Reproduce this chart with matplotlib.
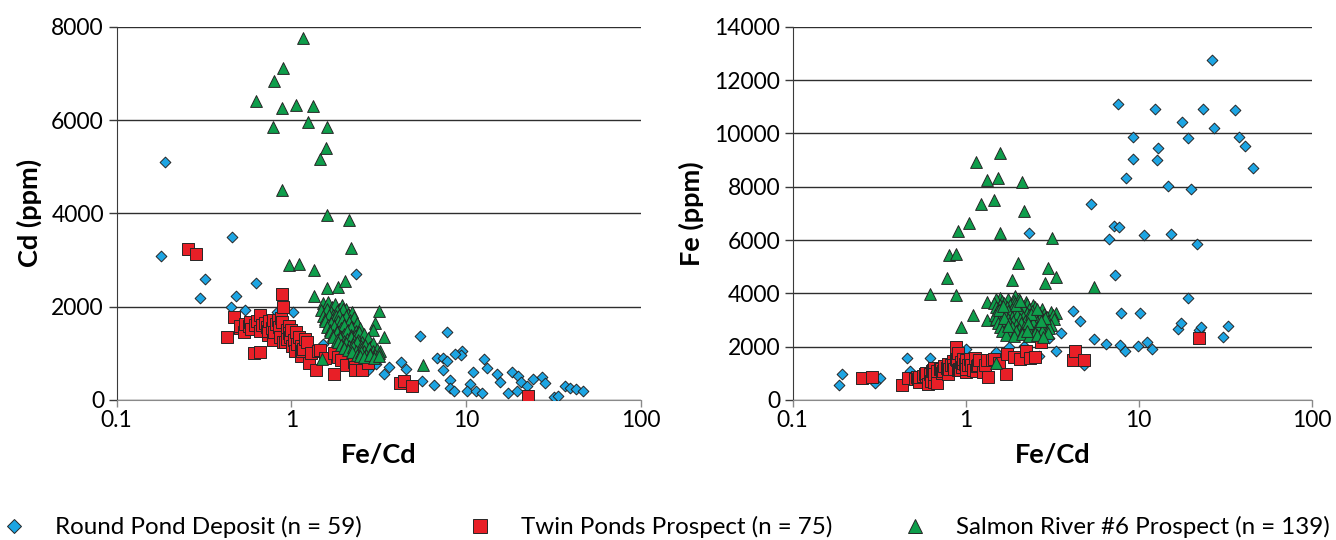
import matplotlib
matplotlib.use("Agg")
import matplotlib.pyplot as plt
from matplotlib.lines import Line2D

plt.rcParams['font.family'] = ['Lato', 'DejaVu Sans']

# ---------------- data ----------------
# Left panel: Fe/Cd vs Cd (ppm)
rp_left_ratio = [0.19, 0.18, 0.32, 0.30, 0.46, 0.48, 0.45, 0.54, 0.63, 1.02, 2.35, 0.72, 0.83,
                 1.52, 1.84, 2.20, 3.05, 3.60, 4.24, 4.54, 3.40, 2.73, 5.44, 7.82, 9.52, 9.40,
                 8.65, 6.80, 7.40, 7.80, 7.40, 8.03, 8.03, 8.50, 6.56, 5.60, 10.95, 10.5, 10.1,
                 11.4, 12.3, 12.7, 13.1, 15.1, 15.7, 17.3, 18.3, 19.9, 20.6, 19.6, 22.2, 24.1,
                 27.3, 28.3, 31.8, 33.7, 36.8, 39.3, 42.4, 46.8]
rp_left_cd = [5100, 3090, 2590, 2190, 3490, 2230, 2000, 1930, 2510, 1890, 2710, 1430, 1890,
              1200, 1080, 920, 780, 700, 820, 660, 550, 640, 1370, 1450, 1060, 960,
              990, 910, 910, 830, 640, 420, 260, 200, 320, 410, 590, 340, 200,
              190, 160, 870, 690, 550, 390, 160, 590, 510, 390, 190, 290, 460,
              500, 360, 70, 90, 310, 260, 230, 190]

tp_left_ratio = [0.255, 0.285, 0.43, 0.468, 0.51, 0.51, 0.533, 0.54, 0.57, 0.583, 0.59, 0.615,
                 0.62, 0.64, 0.66, 0.66, 0.66, 0.68, 0.71, 0.726, 0.732, 0.74, 0.75, 0.78,
                 0.79, 0.79, 0.80, 0.82, 0.84, 0.854, 0.86, 0.877, 0.885, 0.885, 0.90, 0.90,
                 0.924, 0.94, 0.95, 0.965, 0.965, 0.987, 1.00, 1.01, 1.03, 1.05, 1.06, 1.08,
                 1.10, 1.13, 1.14, 1.15, 1.17, 1.20, 1.23, 1.26, 1.30, 1.38, 1.43, 1.45,
                 1.55, 1.75, 1.75, 1.85, 1.92, 2.05, 2.27, 2.30, 2.32, 2.54, 2.74, 4.16,
                 4.42, 4.90, 22.7]
tp_left_cd = [3230, 3120, 1350, 1770, 1540, 1580, 1450, 1620, 1580, 1680, 1520, 1000,
              1600, 1700, 1030, 1820, 1480, 1600, 1640, 1560, 1400, 1480, 1700, 1550,
              1714, 1286, 1450, 1620, 1720, 1557, 1350, 1750, 2265, 1680, 1986, 1250,
              1236, 1500, 1300, 1585, 1428, 1350, 1500, 1157, 1280, 1050, 1450, 1200,
              1357, 1157, 943, 1050, 1100, 1300, 1250, 800, 1000, 643, 1050, 1071,
              900, 1000, 557, 920, 857, 750, 807, 714, 643, 643, 800, 357,
              414, 307, 93]

sr_left_ratio = [1.17, 0.90, 0.80, 0.63, 0.885, 1.06, 1.33, 1.25, 0.786, 1.60, 1.57, 1.46,
                 0.88, 1.60, 2.15, 2.19, 0.965, 1.11, 1.34, 1.61, 1.86, 2.04, 1.35, 3.18,
                 3.02, 2.95, 3.37, 1.50, 5.65, 2.83, 3.20,
                 1.52, 1.59, 1.63, 1.71, 1.77, 1.87, 1.94, 2.06,
                 1.47, 1.56, 1.60, 1.69, 1.73, 1.83, 1.91, 1.98, 2.11, 2.21,
                 1.51, 1.56, 1.65, 1.71, 1.81, 1.87, 1.98, 2.05, 2.17, 2.29,
                 1.55, 1.63, 1.68, 1.78, 1.84, 1.94, 2.01, 2.13, 2.23, 2.39,
                 1.61, 1.66, 1.76, 1.82, 1.93, 2.00, 2.12, 2.20, 2.35, 2.47,
                 1.67, 1.73, 1.83, 1.90, 2.01, 2.08, 2.20, 2.31, 2.43, 2.61,
                 1.72, 1.82, 1.89, 2.00, 2.07, 2.19, 2.28, 2.42, 2.54, 2.73,
                 1.85, 1.93, 2.05, 2.13, 2.26, 2.36, 2.51, 2.63, 2.81, 2.95,
                 2.01, 2.11, 2.25, 2.35, 2.50, 2.62, 2.79, 2.92, 3.11,
                 2.21, 2.37, 2.51, 2.69, 2.83, 3.01, 3.17,
                 2.46, 2.61, 2.81, 2.97, 3.16]
sr_left_cd = [7750, 7120, 6840, 6410, 6260, 6320, 6290, 5960, 5840, 5840, 5390, 5170,
              4510, 3960, 3850, 3260, 2890, 2910, 2780, 2390, 2430, 2550, 2230, 1910,
              1650, 1490, 1360, 880, 750, 1030, 1040,
              2070, 2010, 2095, 1985, 2060, 1960, 2040, 1945,
              1930, 1860, 1955, 1890, 1825, 1915, 1840, 1950, 1835, 1895,
              1800, 1735, 1825, 1715, 1790, 1820, 1720, 1790, 1705, 1775,
              1700, 1615, 1655, 1590, 1685, 1705, 1610, 1665, 1575, 1650,
              1575, 1500, 1590, 1485, 1545, 1600, 1495, 1555, 1470, 1545,
              1465, 1395, 1455, 1375, 1420, 1480, 1385, 1365, 1455, 1410,
              1345, 1280, 1335, 1255, 1305, 1355, 1270, 1290, 1250, 1330,
              1235, 1175, 1220, 1150, 1190, 1240, 1165, 1185, 1140, 1220,
              1125, 1075, 1130, 1060, 1095, 1050, 1120, 1045, 1085,
              1020, 975, 1030, 955, 995, 965, 1015,
              945, 920, 965, 910, 935]

# Right panel: Fe/Cd vs Fe (ppm)
rp_right_ratio = [0.192, 0.184, 0.32, 0.30, 0.455, 0.625, 0.475, 0.72, 0.83, 1.01, 1.50, 1.79,
                  2.16, 2.29, 2.64, 3.02, 3.34, 3.56, 4.15, 4.55, 4.86, 5.50, 6.49, 2.32,
                  26.5, 7.63, 12.5, 23.4, 35.8, 17.9, 27.3, 9.28, 19.4, 38.0, 41.1, 13.0,
                  9.30, 12.8, 45.5, 8.46, 14.8, 20.1, 5.33, 7.24, 7.67, 6.71, 10.7, 15.4,
                  21.7, 7.31, 19.3, 7.91, 10.2, 7.84, 8.38, 9.92, 11.2, 12.0, 16.8, 17.6,
                  22.4, 22.9, 30.9, 32.9]
rp_right_fe = [975, 560, 810, 650, 1560, 1590, 1100, 1030, 1570, 1900, 1800, 1975,
               2025, 2500, 1650, 2320, 1840, 2530, 3340, 2975, 1320, 2280, 2090, 6280,
               12750, 11090, 10900, 10920, 10880, 10410, 10210, 9860, 9810, 9850, 9540, 9460,
               9050, 9000, 8690, 8310, 8040, 7910, 7350, 6520, 6480, 6050, 6200, 6210,
               5860, 4700, 3840, 3280, 3280, 2060, 1840, 2040, 2160, 1910, 2650, 2870,
               2620, 2740, 2350, 2790]

tp_right_ratio = [0.253, 0.286, 0.43, 0.465, 0.51, 0.52, 0.533, 0.54, 0.54, 0.57, 0.583, 0.59,
                  0.593, 0.606, 0.62, 0.634, 0.64, 0.648, 0.66, 0.66, 0.66, 0.678, 0.68, 0.71,
                  0.724, 0.732, 0.74, 0.75, 0.78, 0.79, 0.79, 0.80, 0.82, 0.84, 0.845, 0.86,
                  0.877, 0.884, 0.885, 0.90, 0.90, 0.92, 0.924, 0.94, 0.95, 0.965, 0.965, 0.987,
                  1.00, 1.01, 1.01, 1.03, 1.06, 1.08, 1.10, 1.13, 1.14, 1.17, 1.18, 1.20,
                  1.26, 1.30, 1.32, 1.35, 1.41, 1.45, 1.55, 1.72, 1.74, 1.90, 2.05, 2.24,
                  2.36, 2.53, 2.71, 4.16, 4.31, 4.80, 22.2]
tp_right_fe = [812, 860, 562, 812, 806, 850, 773, 687, 875, 900, 979, 897,
               1000, 612, 992, 725, 1088, 1140, 680, 1201, 977, 650, 1088, 1164,
               1155, 1025, 1095, 1275, 1209, 975, 1354, 1160, 1328, 1445, 1312, 1161,
               1535, 2000, 1487, 1775, 1125, 1150, 1142, 1410, 1235, 1390, 1530, 1332,
               1500, 1062, 1169, 1318, 1537, 1296, 1125, 1562, 1075, 1287, 1312, 1500,
               1040, 1300, 1500, 860, 1500, 1553, 1395, 962, 1712, 1600, 1537, 1845,
               1562, 1600, 2187, 1512, 1837, 1500, 2312]

sr_right_ratio = [1.58, 1.15, 1.32, 1.54, 2.12, 1.23, 1.45, 2.17, 1.04, 0.90, 1.58, 3.16,
                  0.80, 0.875, 2.00, 2.98, 0.78, 1.85, 3.34, 0.625, 0.875, 0.94, 1.10, 1.33,
                  1.33, 1.57, 1.94, 2.88, 1.49, 5.55, 3.34,
                  1.50, 1.63, 1.75, 1.91, 2.04, 2.23,
                  1.46, 1.57, 1.67, 1.81, 1.94, 2.11, 2.27, 2.46,
                  1.49, 1.59, 1.73, 1.84, 2.01, 2.14, 2.33, 2.51, 2.76,
                  1.51, 1.65, 1.76, 1.93, 2.06, 2.25, 2.41, 2.63, 2.84, 3.11,
                  1.47, 1.59, 1.69, 1.85, 1.97, 2.15, 2.31, 2.53, 2.71, 2.96, 3.19,
                  1.50, 1.61, 1.76, 1.88, 2.05, 2.19, 2.39, 2.57, 2.81, 3.01, 3.26,
                  1.54, 1.67, 1.79, 1.96, 2.10, 2.29, 2.46, 2.69, 2.89, 3.13,
                  1.58, 1.72, 1.85, 2.03, 2.18, 2.39, 2.57, 2.81, 3.04,
                  1.63, 1.77, 1.96, 2.11, 2.32, 2.51, 2.76, 2.99,
                  1.71, 1.89, 2.11, 2.31, 2.57, 2.81,
                  1.55, 1.96, 2.40, 1.66, 2.28, 2.88, 1.75, 2.25, 2.72, 1.64, 2.05, 2.60]
sr_right_fe = [9250, 8940, 8250, 8310, 8160, 7350, 7500, 7100, 6620, 6350, 6250, 6090,
               5440, 5480, 5120, 4940, 4560, 4510, 4620, 3960, 3940, 2750, 3190, 3000,
               3690, 3810, 3890, 4380, 1400, 4220, 3250,
               3780, 3720, 3800, 3700, 3770, 3690,
               3630, 3560, 3650, 3570, 3620, 3540, 3610, 3560,
               3480, 3410, 3490, 3400, 3460, 3500, 3410, 3470, 3420,
               3330, 3260, 3350, 3270, 3320, 3250, 3340, 3280, 3230, 3310,
               3180, 3110, 3190, 3100, 3170, 3120, 3200, 3090, 3160, 3110, 3180,
               3030, 2960, 3050, 2950, 3020, 2970, 3040, 2940, 3010, 2960, 3030,
               2880, 2810, 2890, 2800, 2870, 2820, 2900, 2790, 2860, 2810,
               2730, 2660, 2740, 2650, 2720, 2670, 2750, 2650, 2710,
               2590, 2510, 2580, 2500, 2570, 2520, 2590, 2510,
               2450, 2390, 2460, 2400, 2440, 2380,
               3385, 3545, 3230, 3075, 2905, 3080, 2775, 2605, 2960, 3525, 3700, 3395]

labels = ["Round Pond Deposit (n = 59)", "Twin Ponds Prospect (n = 75)",
          "Salmon River #6 Prospect (n = 139)"]
x_ticks = [0.1, 1, 10, 100]
x_ticklabels = ["0.1", "1", "10", "100"]

# ---------------- style ----------------
c_blue, c_red, c_green = '#1DA5E3', '#E81F27', '#0E9E4B'
edge = '#262626'
W, H = 1336, 540
fig = plt.figure(figsize=(W / 100, H / 100), dpi=100)

ax1 = fig.add_axes([116.5 / W, 1 - 400 / H, (641 - 116.5) / W, (400 - 26.7) / H])
ax2 = fig.add_axes([792.7 / W, 1 - 400 / H, (1311.7 - 792.7) / W, (400 - 26.7) / H])

mk = dict(edgecolors=edge, linewidths=0.7)

for ax, rr, ry, tr, ty, sr, sy, ymax, ylab, lx in [
        (ax1, rp_left_ratio, rp_left_cd, tp_left_ratio, tp_left_cd, sr_left_ratio, sr_left_cd,
         8000, "Cd (ppm)", -0.166),
        (ax2, rp_right_ratio, rp_right_fe, tp_right_ratio, tp_right_fe, sr_right_ratio, sr_right_fe,
         14000, "Fe (ppm)", -0.196)]:
    ax.scatter(rr, ry, marker='D', s=30, c=c_blue, zorder=3, **mk)
    ax.scatter(tr, ty, marker='s', s=70, c=c_red, zorder=4, **mk)
    ax.scatter(sr, sy, marker='^', s=72, c=c_green, zorder=5, **mk)
    ax.set_xscale('log')
    ax.set_xlim(0.1, 100)
    ax.set_ylim(0, ymax)
    ax.set_xticks(x_ticks)
    ax.set_xticklabels(x_ticklabels)
    ax.minorticks_off()
    ax.set_yticks(range(0, ymax + 1, 2000))
    ax.yaxis.grid(True, color='#2e2e2e', linewidth=1.0)
    ax.set_axisbelow(True)
    for s in ['top', 'right']:
        ax.spines[s].set_visible(False)
    ax.spines['left'].set_color('#3a3a3a')
    ax.spines['bottom'].set_color('#8a8a8a')
    ax.tick_params(axis='y', length=6, width=1.0, color='#3a3a3a', labelsize=16.5, pad=3)
    ax.tick_params(axis='x', length=5, width=1.0, color='#8a8a8a', labelsize=16.5, pad=2)
    ax.set_xlabel("Fe/Cd", fontsize=19.5, fontweight='bold')
    ax.xaxis.set_label_coords(0.5, -0.115)
    ax.set_ylabel(ylab, fontsize=19.5, fontweight='bold')
    ax.yaxis.set_label_coords(lx, 0.5)
    ax.yaxis.label.set_verticalalignment('center')

# legend entries
handles = [
    Line2D([], [], marker='D', linestyle='none', markersize=7.0, markerfacecolor=c_blue,
           markeredgecolor=edge, markeredgewidth=0.7),
    Line2D([], [], marker='s', linestyle='none', markersize=9.5, markerfacecolor=c_red,
           markeredgecolor=edge, markeredgewidth=0.7),
    Line2D([], [], marker='^', linestyle='none', markersize=10, markerfacecolor=c_green,
           markeredgecolor=edge, markeredgewidth=0.7),
]
xpos = [2 / W, 468 / W, 903 / W]
for h, lab, xp in zip(handles, labels, xpos):
    fig.legend([h], [lab], loc='center left', bbox_to_anchor=(xp, 1 - 527 / H),
               frameon=False, fontsize=17.4, handlelength=1.0, handletextpad=1.2,
               borderaxespad=0, borderpad=0)

fig.savefig("out.png", dpi=100)
